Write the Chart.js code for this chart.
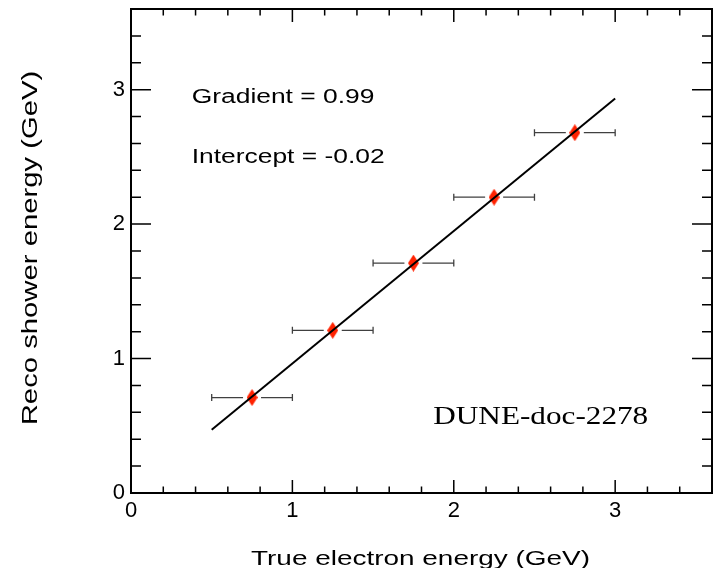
<!DOCTYPE html>
<html><head><meta charset="utf-8">
<script src="https://cdn.jsdelivr.net/npm/chart.js@4.4.1/dist/chart.umd.min.js"></script>
<style>html,body{margin:0;padding:0;background:#fff;overflow:hidden}#wrap{width:722px;height:568px}</style>
</head><body><div id="wrap"><canvas id="c" width="722" height="568"></canvas></div>
<script>
// ---- data ----
const trueEnergy = [0.75, 1.25, 1.75, 2.25, 2.75];
const recoEnergy = [0.71, 1.21, 1.71, 2.20, 2.68];
const trueEnergyErr = [0.25, 0.25, 0.25, 0.25, 0.25];
const fitX = [0.5, 3.0];
const fitY = [0.47, 2.935];
const xTickValues = [0, 1, 2, 3];
const yTickValues = [0, 1, 2, 3];
const annotations = ['Gradient = 0.99', 'Intercept = -0.02'];
const watermark = 'DUNE-doc-2278';
const xTitle = 'True electron energy (GeV)';
const yTitle = 'Reco shower energy (GeV)';

const SANS = '"Liberation Sans", Arial, Helvetica, sans-serif';
const SERIF = '"Liberation Serif", "Times New Roman", serif';

function diamond(w, h, color) {
  const c = document.createElement('canvas');
  c.width = w; c.height = h;
  const g = c.getContext('2d');
  g.fillStyle = color;
  g.beginPath();
  g.moveTo(w / 2, 0); g.lineTo(w, h / 2); g.lineTo(w / 2, h); g.lineTo(0, h / 2);
  g.closePath(); g.fill();
  return c;
}

function stretchedText(ctx, text, x, y, font, sx, rot, align) {
  ctx.save();
  ctx.translate(x, y);
  if (rot) ctx.rotate(rot);
  ctx.scale(sx, 1);
  ctx.font = font;
  ctx.fillStyle = '#000';
  ctx.textAlign = align;
  ctx.textBaseline = 'alphabetic';
  ctx.fillText(text, 0, 0);
  ctx.restore();
}

const framePlugin = {
  id: 'frame',
  beforeDatasetsDraw(chart) {
    const { ctx, chartArea: a, scales: { x, y } } = chart;
    ctx.save();
    // horizontal error bars with a gap around the marker
    ctx.strokeStyle = '#404040';
    ctx.lineWidth = 1.3;
    for (let i = 0; i < trueEnergy.length; i++) {
      const px = x.getPixelForValue(trueEnergy[i]);
      const lo = x.getPixelForValue(trueEnergy[i] - trueEnergyErr[i]);
      const hi = x.getPixelForValue(trueEnergy[i] + trueEnergyErr[i]);
      const py = y.getPixelForValue(recoEnergy[i]);
      const gap = 9;
      ctx.beginPath();
      ctx.moveTo(lo, py); ctx.lineTo(px - gap, py);
      ctx.moveTo(px + gap, py); ctx.lineTo(hi, py);
      ctx.moveTo(lo, py - 3.5); ctx.lineTo(lo, py + 3.5);
      ctx.moveTo(hi, py - 3.5); ctx.lineTo(hi, py + 3.5);
      ctx.stroke();
    }
    // tick marks on all four sides (inside the frame)
    ctx.strokeStyle = '#000';
    ctx.lineWidth = 1.5;
    ctx.beginPath();
    for (let i = 0; i <= 18; i++) {
      const v = i * 0.2;
      const major = i % 5 === 0;
      const xp = x.getPixelForValue(v);
      const yp = y.getPixelForValue(v);
      const lx = major ? 13 : 6.5;
      const ly = major ? 20 : 10;
      if (xp > a.left + 1 && xp < a.right - 1) {
        ctx.moveTo(xp, a.bottom); ctx.lineTo(xp, a.bottom - lx);
        ctx.moveTo(xp, a.top); ctx.lineTo(xp, a.top + lx);
      }
      if (yp < a.bottom - 1 && yp > a.top + 1) {
        ctx.moveTo(a.left, yp); ctx.lineTo(a.left + ly, yp);
        ctx.moveTo(a.right, yp); ctx.lineTo(a.right - ly, yp);
      }
    }
    ctx.stroke();
    // frame
    ctx.lineWidth = 2;
    ctx.strokeRect(a.left, a.top, a.right - a.left, a.bottom - a.top);
    ctx.restore();
  },
  afterDraw(chart) {
    const { ctx } = chart;
    stretchedText(ctx, annotations[0], 191.7, 103, '20px ' + SANS, 1.32, 0, 'left');
    stretchedText(ctx, annotations[1], 191.7, 163.3, '20px ' + SANS, 1.32, 0, 'left');
    stretchedText(ctx, watermark, 433.3, 424.3, '26px ' + SERIF, 1.2, 0, 'left');
    stretchedText(ctx, xTitle, 420.5, 564.5, '21px ' + SANS, 1.33, 0, 'center');
    stretchedText(ctx, yTitle, 37.3, 248, '22px ' + SANS, 1.33, -Math.PI / 2, 'center');
  }
};

const tickFont = { family: SANS, size: 22 };

new Chart(document.getElementById('c'), {
  type: 'scatter',
  data: {
    datasets: [
      {
        label: 'fit',
        type: 'line',
        data: fitX.map((v, i) => ({ x: v, y: fitY[i] })),
        borderColor: '#000',
        borderWidth: 2,
        pointRadius: 0,
        fill: false,
        order: 0
      },
      {
        label: 'data',
        data: trueEnergy.map((v, i) => ({ x: v, y: recoEnergy[i] })),
        pointStyle: diamond(11, 17, '#ff2200'),
        pointRadius: 8,
        showLine: false,
        order: 1
      }
    ]
  },
  options: {
    responsive: false,
    animation: false,
    devicePixelRatio: 1,
    layout: { padding: { left: 0, right: 10, top: 8, bottom: 0 } },
    plugins: { legend: { display: false }, tooltip: { enabled: false } },
    scales: {
      x: {
        type: 'linear', min: 0, max: 3.6,
        afterBuildTicks: s => { s.ticks = xTickValues.map(v => ({ value: v })); },
        ticks: { autoSkip: false, maxRotation: 0, padding: 5, color: '#000', font: tickFont },
        grid: { display: false, drawTicks: false },
        border: { display: false },
        afterFit: s => { s.height = 75; s.paddingLeft = 0; s.paddingRight = 0; }
      },
      y: {
        type: 'linear', min: 0, max: 3.6,
        afterBuildTicks: s => { s.ticks = yTickValues.map(v => ({ value: v })); },
        ticks: { autoSkip: false, padding: 6, color: '#000', font: tickFont },
        grid: { display: false, drawTicks: false },
        border: { display: false },
        afterFit: s => { s.width = 131; s.paddingTop = 0; s.paddingBottom = 0; }
      }
    }
  },
  plugins: [framePlugin]
});
</script>
</body></html>
